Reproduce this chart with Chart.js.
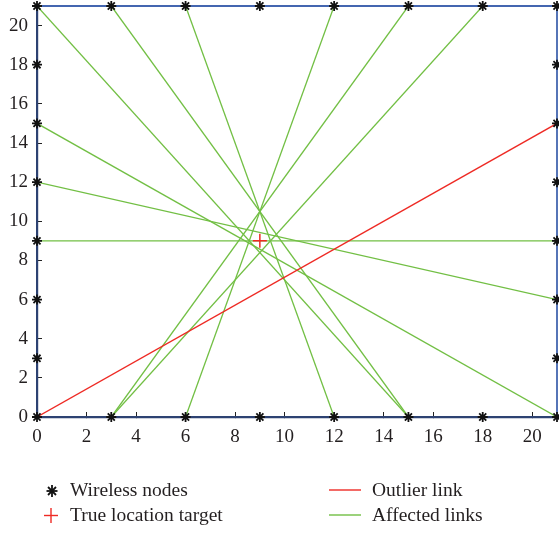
<!DOCTYPE html>
<html>
<head>
<meta charset="utf-8">
<script src="https://cdn.jsdelivr.net/npm/chart.js@4"></script>
<style>
    body { margin: 0; background: #fff; }
    #wrap { position: relative; width: 559px; height: 533px; }
    #legend { position: absolute; left: 0; top: 476px; width: 559px; font-family: "Liberation Serif", serif; font-size: 19.5px; color: #231f20; }
    .item { position: absolute; height: 24px; line-height: 24px; white-space: nowrap; }
    .item svg { position: absolute; left: 0; top: 0; }
    .item span { position: absolute; }
</style>
</head>
<body>
<div id="wrap">
    <canvas id="chart" width="559" height="533"></canvas>
    <div id="legend">
        <div class="item" style="left:45px; top:2px;">
            <svg width="16" height="24"><g stroke="#111" stroke-width="1.8"><line x1="7" y1="7" x2="7" y2="19"/><line x1="1.5" y1="13" x2="12.5" y2="13"/><line x1="3" y1="9" x2="11" y2="17"/><line x1="11" y1="9" x2="3" y2="17"/></g></svg>
            <span style="left:25px;">Wireless nodes</span>
        </div>
        <div class="item" style="left:44px; top:27px;">
            <svg width="16" height="24"><g stroke="#ee2a24" stroke-width="1.4"><line x1="7" y1="5" x2="7" y2="20"/><line x1="0" y1="12.5" x2="14" y2="12.5"/></g></svg>
            <span style="left:26px;">True location target</span>
        </div>
        <div class="item" style="left:329px; top:2px;">
            <svg width="34" height="24"><line x1="0" y1="12" x2="32" y2="12" stroke="#ee2a24" stroke-width="1.4"/></svg>
            <span style="left:43px;">Outlier link</span>
        </div>
        <div class="item" style="left:329px; top:27px;">
            <svg width="34" height="24"><line x1="0" y1="12" x2="32" y2="12" stroke="#72bf44" stroke-width="1.4"/></svg>
            <span style="left:43px;">Affected links</span>
        </div>
    </div>
</div>
<script>
// --- Data ---
const axisTicks = [0, 2, 4, 6, 8, 10, 12, 14, 16, 18, 20];

// wireless nodes around the perimeter
const nodesX = [0, 3, 6, 9, 12, 15, 18, 21,  0, 3, 6, 9, 12, 15, 18, 21,  0, 0, 0, 0, 0, 0,  21, 21, 21, 21, 21, 21];
const nodesY = [21, 21, 21, 21, 21, 21, 21, 21,  0, 0, 0, 0, 0, 0, 0, 0,  3, 6, 9, 12, 15, 18,  3, 6, 9, 12, 15, 18];

const targetX = [9];
const targetY = [9];

// links as [x1, y1, x2, y2]
const outlierLink = [0, 0, 21, 15];
const affectedLinks = [
    [0, 21, 15, 0],
    [3, 21, 15, 0],
    [6, 21, 12, 0],
    [3, 0, 15, 21],
    [3, 0, 18, 21],
    [6, 0, 12, 21],
    [0, 15, 21, 0],
    [0, 12, 21, 6],
    [0, 9, 21, 9]
];

const GREEN = "#72bf44";
const RED = "#ee2a24";
const FONT = { family: "'Liberation Serif', serif", size: 19 };

function linkDataset(l, color, order) {
    return {
        data: [{ x: l[0], y: l[1] }, { x: l[2], y: l[3] }],
        showLine: true,
        borderColor: color,
        borderWidth: 1.3,
        pointRadius: 0,
        order: order
    };
}

const datasets = [];
datasets.push({
    label: "Wireless nodes",
    data: nodesX.map((x, i) => ({ x: x, y: nodesY[i] })),
    pointStyle: "star",
    pointRadius: 5,
    borderColor: "#111",
    borderWidth: 1.8,
    showLine: false,
    clip: false,
    order: 0
});
datasets.push({
    label: "True location target",
    data: targetX.map((x, i) => ({ x: x, y: targetY[i] })),
    pointStyle: "cross",
    pointRadius: 7,
    borderColor: RED,
    borderWidth: 1.5,
    showLine: false,
    clip: false,
    order: 1
});
datasets.push(linkDataset(outlierLink, RED, 2));
affectedLinks.forEach(l => datasets.push(linkDataset(l, GREEN, 3)));

// top/right frame lines
const framePlugin = {
    id: "frame",
    beforeDatasetsDraw(chart) {
        const a = chart.chartArea;
        const c = chart.ctx;
        c.save();
        c.strokeStyle = "#4466b0";
        c.lineWidth = 1.8;
        c.beginPath();
        c.moveTo(a.left, a.top);
        c.lineTo(a.right, a.top);
        c.lineTo(a.right, a.bottom);
        c.stroke();
        c.restore();
    }
};

function noPad(s) {
    s.paddingTop = 0;
    s.paddingBottom = 0;
    s.paddingLeft = 0;
    s.paddingRight = 0;
}

new Chart(document.getElementById("chart"), {
    type: "scatter",
    data: { datasets: datasets },
    options: {
        responsive: false,
        animation: false,
        layout: { autoPadding: false, padding: { top: 6, right: 2, left: 0, bottom: 0 } },
        plugins: { legend: { display: false }, tooltip: { enabled: false } },
        scales: {
            x: {
                type: "linear",
                min: 0, max: 21,
                afterBuildTicks: s => { s.ticks = axisTicks.map(v => ({ value: v })); },
                afterFit: s => { s.height = 116; noPad(s); },
                grid: { drawOnChartArea: false, drawTicks: true, tickLength: -5, color: "#222", lineWidth: 1 },
                border: { color: "#2d4272", width: 2.2 },
                ticks: { font: FONT, color: "#231f20", padding: 14, maxRotation: 0 }
            },
            y: {
                type: "linear",
                min: 0, max: 21,
                afterBuildTicks: s => { s.ticks = axisTicks.map(v => ({ value: v })); },
                afterFit: s => { s.width = 37; noPad(s); },
                grid: { drawOnChartArea: false, drawTicks: true, tickLength: -5, color: "#222", lineWidth: 1 },
                border: { color: "#2d4272", width: 2.2 },
                ticks: { font: FONT, color: "#231f20", padding: 14 }
            }
        }
    },
    plugins: [framePlugin]
});
</script>
</body>
</html>
